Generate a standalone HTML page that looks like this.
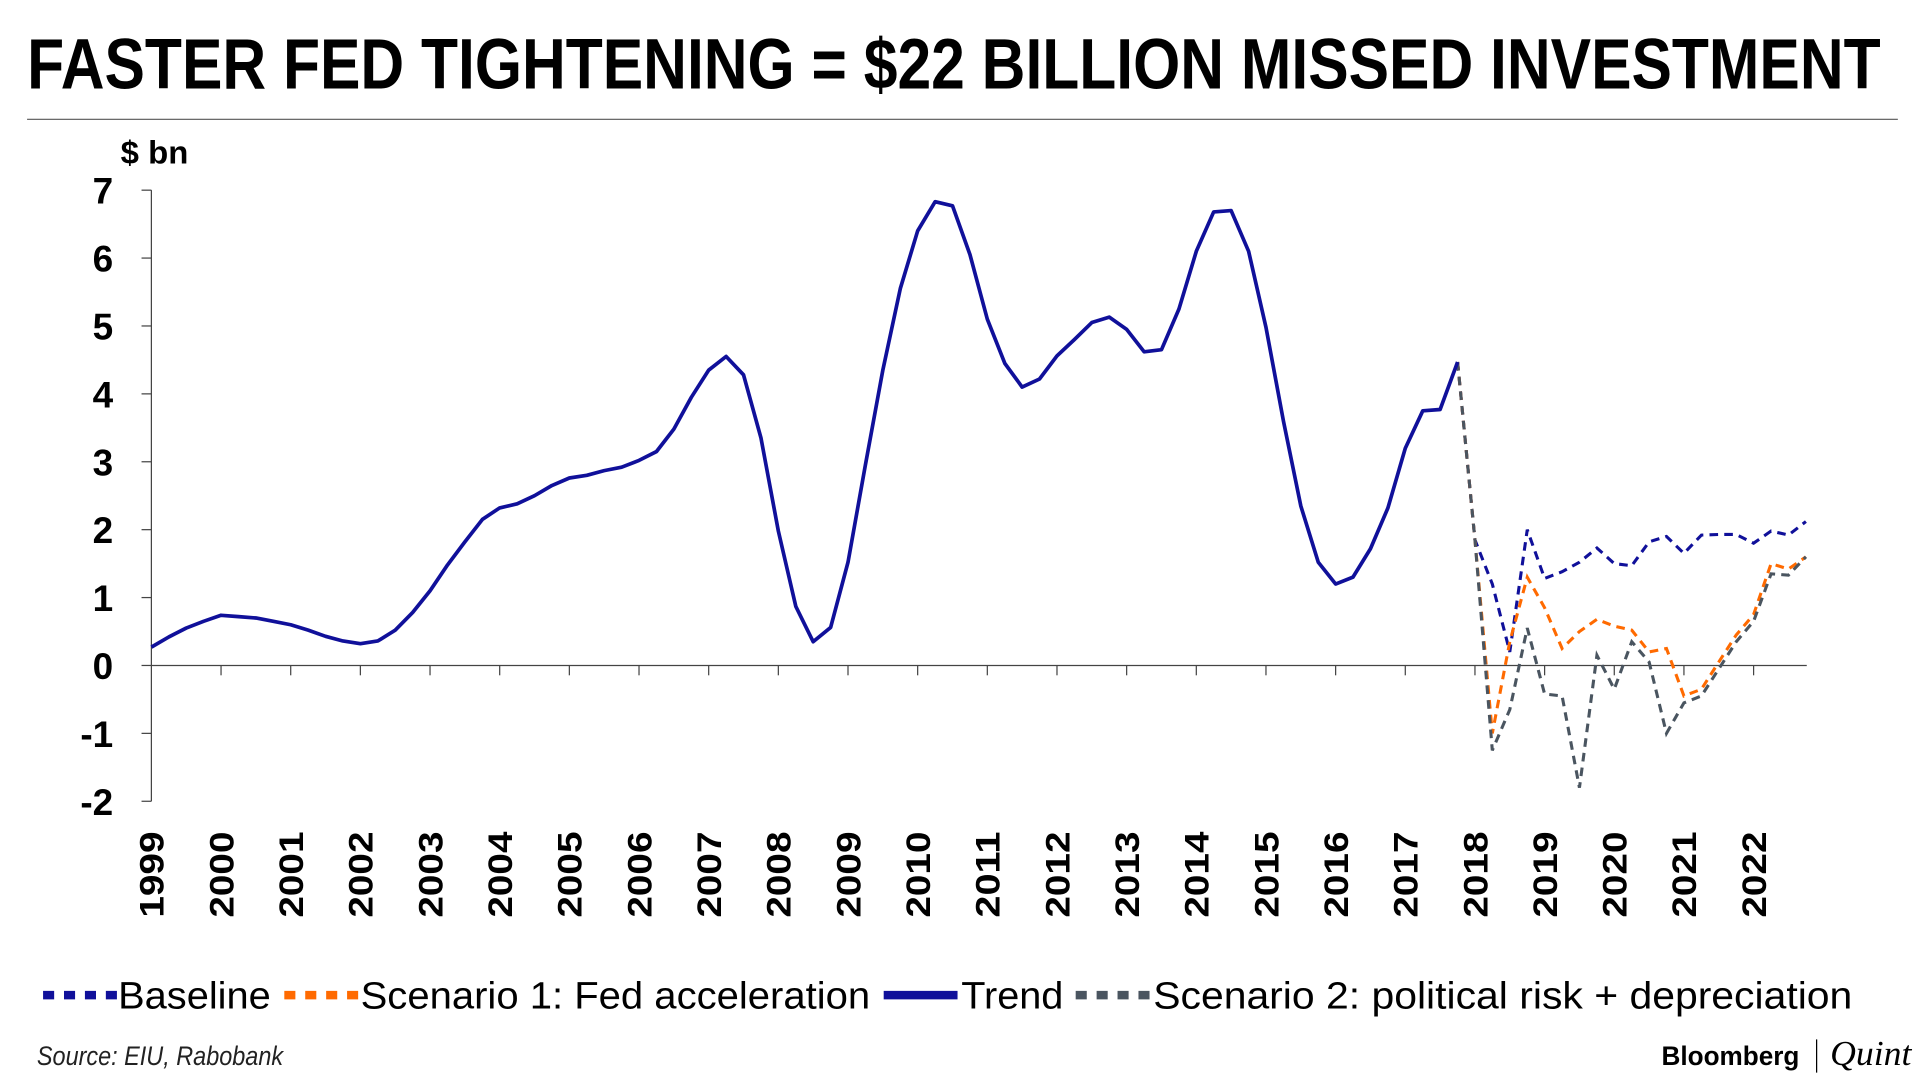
<!DOCTYPE html>
<html><head><meta charset="utf-8"><style>
html,body{margin:0;padding:0;background:#fff;}
svg{display:block;font-family:"Liberation Sans",sans-serif;}
</style></head><body>
<svg id="chart" width="1920" height="1080" viewBox="0 0 1560 878" preserveAspectRatio="none" xmlns="http://www.w3.org/2000/svg">
<text x="22" y="72" font-size="58" font-weight="bold" fill="#000" textLength="1506" lengthAdjust="spacingAndGlyphs">FASTER FED TIGHTENING = $22 BILLION MISSED INVESTMENT</text>
<line x1="22" y1="97" x2="1542" y2="97" stroke="#555" stroke-width="1"/>
<text x="98" y="133" font-size="26" font-weight="bold" textLength="55" lengthAdjust="spacingAndGlyphs">$ bn</text>
<g id="axes"></g>
<g id="series"></g>
<g id="legend">
  <line x1="35" y1="809" x2="95" y2="809" stroke="#10109a" stroke-width="7" stroke-dasharray="9,8"/>
  <text x="96" y="820" font-size="31" textLength="124" lengthAdjust="spacingAndGlyphs">Baseline</text>
  <line x1="231" y1="809" x2="291" y2="809" stroke="#ff6a00" stroke-width="7" stroke-dasharray="9,8"/>
  <text x="293" y="820" font-size="31" textLength="414" lengthAdjust="spacingAndGlyphs">Scenario 1: Fed acceleration</text>
  <line x1="718" y1="809" x2="778" y2="809" stroke="#10109a" stroke-width="7"/>
  <text x="781" y="820" font-size="31" textLength="83" lengthAdjust="spacingAndGlyphs">Trend</text>
  <line x1="874" y1="809" x2="934" y2="809" stroke="#4a5560" stroke-width="7" stroke-dasharray="9,8"/>
  <text x="937" y="820" font-size="31" textLength="568" lengthAdjust="spacingAndGlyphs">Scenario 2: political risk + depreciation</text>
</g>
<text x="30" y="866" font-size="22" font-style="italic" fill="#222" textLength="200" lengthAdjust="spacingAndGlyphs">Source: EIU, Rabobank</text>
<text x="1350" y="866" font-size="22" font-weight="bold" textLength="112" lengthAdjust="spacingAndGlyphs">Bloomberg</text>
<line x1="1476" y1="845" x2="1476" y2="872" stroke="#000" stroke-width="1"/>
<text x="1487" y="866" font-size="28" font-style="italic" font-family="Liberation Serif, serif" textLength="66" lengthAdjust="spacingAndGlyphs">Quint</text>
</svg>
<script>
const years = ["1999","2000","2001","2002","2003","2004","2005","2006","2007","2008","2009","2010","2011","2012","2013","2014","2015","2016","2017","2018","2019","2020","2021","2022"];
const yTicks = [7,6,5,4,3,2,1,0,-1,-2];
const trend = [0.27,0.42,0.55,0.65,0.74,0.72,0.70,0.65,0.60,0.52,0.43,0.36,0.32,0.36,0.52,0.78,1.1,1.48,1.82,2.15,2.32,2.38,2.5,2.65,2.76,2.8,2.87,2.92,3.02,3.15,3.48,3.95,4.35,4.55,4.28,3.35,1.98,0.87,0.35,0.56,1.52,2.95,4.35,5.55,6.4,6.83,6.77,6.05,5.1,4.45,4.1,4.22,4.56,4.8,5.05,5.13,4.95,4.62,4.65,5.25,6.1,6.68,6.7,6.1,4.98,3.6,2.35,1.52,1.2,1.3,1.72,2.32,3.2,3.75,3.77,4.47];
const baseline = [4.47,1.85,1.2,0.2,2.0,1.28,1.38,1.52,1.73,1.5,1.47,1.82,1.9,1.65,1.92,1.93,1.93,1.8,1.98,1.92,2.12];
const scenario1 = [4.47,1.85,-1.0,0.35,1.3,0.85,0.25,0.5,0.68,0.58,0.52,0.2,0.25,-0.45,-0.35,0.05,0.45,0.75,1.5,1.42,1.6];
const scenario2 = [4.47,1.85,-1.25,-0.65,0.55,-0.42,-0.45,-1.8,0.15,-0.35,0.35,0.05,-1.0,-0.55,-0.45,-0.05,0.35,0.65,1.35,1.33,1.6];

const NS = "http://www.w3.org/2000/svg";
const X0 = 123, YEARW = 56.6, Y0 = 541, UNIT = 55.2;
function xq(i){ return X0 + i * YEARW / 4; }
function yv(v){ return Y0 - v * UNIT; }
function mk(tag, attrs, parent){ const e=document.createElementNS(NS,tag); for(const k in attrs) e.setAttribute(k,attrs[k]); parent.appendChild(e); return e; }

const axes = document.getElementById('axes');
const ya = mk('line',{x1:X0,y1:yv(7),x2:X0,y2:yv(-2),stroke:'#444','stroke-width':1},axes);


const xa = mk('line',{x1:X0,y1:Y0,x2:1468,y2:Y0,stroke:'#444','stroke-width':1},axes);


yTicks.forEach(v=>{
  const t = mk('line',{x1:X0-8,y1:yv(v),x2:X0,y2:yv(v),stroke:'#444','stroke-width':1},axes);
  
  
  const l = mk('text',{x:92,y:yv(v)+11,'text-anchor':'end','font-size':30,'font-weight':'bold'},axes);
  l.textContent = String(v);
  
  
});
years.forEach((yr,i)=>{
  const x = X0 + i*YEARW;
  if(i>0){
    const t = mk('line',{x1:x,y1:Y0,x2:x,y2:Y0+8,stroke:'#444','stroke-width':1},axes);
    
    
  }
  const l = mk('text',{x:0,y:0,'text-anchor':'end','font-size':28,'font-weight':'bold',transform:`translate(${x+10},676) rotate(-90)`,textLength:70,lengthAdjust:'spacingAndGlyphs'},axes);
  l.textContent = yr;
  
  
});

const series = document.getElementById('series');
function path(vals, offset){
  return vals.map((v,i)=>(i?'L':'M')+xq(i+offset).toFixed(1)+','+yv(v).toFixed(1)).join(' ');
}
const off = trend.length - 1;
const b = mk('path',{d:path(baseline,off),fill:'none',stroke:'#10109a','stroke-width':2.5,'stroke-dasharray':'7,5'},series);


const s1 = mk('path',{d:path(scenario1,off),fill:'none',stroke:'#ff6a00','stroke-width':2.5,'stroke-dasharray':'7,5'},series);


const s2 = mk('path',{d:path(scenario2,off),fill:'none',stroke:'#4a5560','stroke-width':2.5,'stroke-dasharray':'7,5'},series);


const tr = mk('path',{d:path(trend,0),fill:'none',stroke:'#10109a','stroke-width':3,'stroke-linejoin':'round'},series);


</script>
</body></html>
